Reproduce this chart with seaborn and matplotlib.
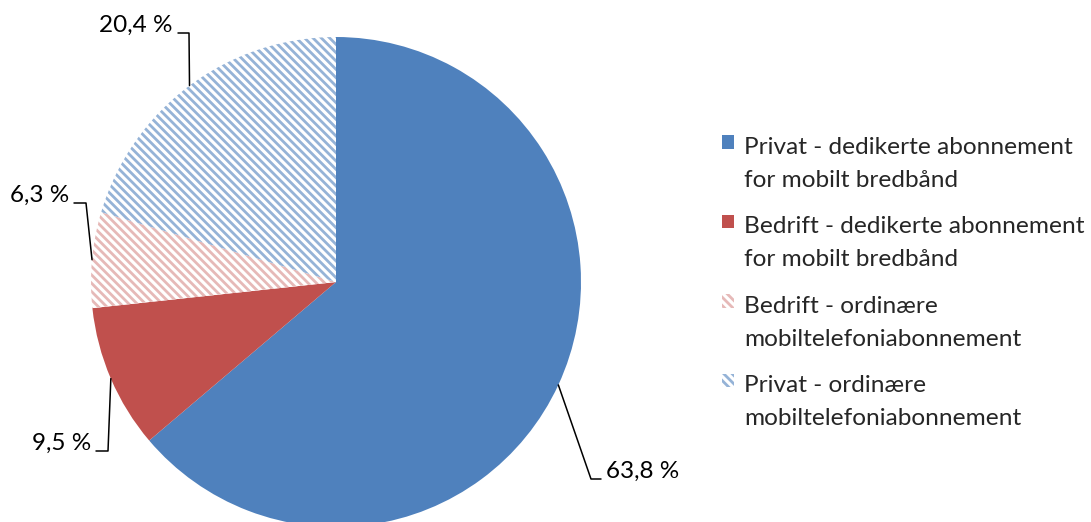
import matplotlib
matplotlib.use("Agg")
import matplotlib.pyplot as plt
import numpy as np
import seaborn as sns
from matplotlib.patches import Rectangle
from matplotlib.legend_handler import HandlerPatch

# data
categories = [
    "Privat - dedikerte abonnement\nfor mobilt bredbånd",
    "Bedrift - dedikerte abonnement\nfor mobilt bredbånd",
    "Bedrift - ordinære\nmobiltelefoniabonnement",
    "Privat - ordinære\nmobiltelefoniabonnement",
]
shares = [63.8, 9.5, 6.3, 20.4]
value_labels = ["63,8 %", "9,5 %", "6,3 %", "20,4 %"]

# styles
face_colors = ["#4F81BD", "#C0504D", "white", "white"]
hatch_colors = ["#4F81BD", "#C0504D", "#E6B9B8", "#95B3D7"]
hatches = [None, None, "\\\\\\\\", "\\\\\\\\"]

# label layout in pixels: elbow of leader, end of leader, text alignment
elbows_px = [(591, 479), (108, 451), (86, 203), (189, 33)]
ends_px = [(601, 479), (96, 451), (74, 203), (178, 33)]
text_ha = ["left", "right", "right", "right"]

W, H = 1091, 522
R = 245
cx, cy = 336, 282

sns.set_theme(style="white")
plt.rcParams["font.family"] = ["Lato", "DejaVu Sans"]
plt.rcParams["hatch.linewidth"] = 2.0


def px(p):
    return ((p[0] - cx) / R, (cy - p[1]) / R)


fig = plt.figure(figsize=(W / 100, H / 100), dpi=100)
ax = fig.add_axes([0, 0, 1, 1])
wedges, _ = ax.pie(shares, startangle=90, counterclock=False, radius=1,
                   colors=face_colors, wedgeprops=dict(linewidth=0))
for w, h, hc in zip(wedges, hatches, hatch_colors):
    if h:
        w.set_hatch(h)
        w.set_edgecolor(hc)

ax.set_xlim(-cx / R, (W - cx) / R)
ax.set_ylim(-(H - cy) / R, cy / R)
ax.set_aspect("auto")
ax.axis("off")

# leader lines and value labels
for w, lab, el, en, ha in zip(wedges, value_labels, elbows_px, ends_px, text_ha):
    th = np.deg2rad((w.theta1 + w.theta2) / 2)
    a = (np.cos(th), np.sin(th))
    e1, e2 = px(el), px(en)
    ax.plot([a[0], e1[0], e2[0]], [a[1], e1[1], e2[1]], color="black", lw=1.1,
            clip_on=False)
    dx = 5 / R if ha == "left" else -5 / R
    ax.text(e2[0] + dx, e2[1] + 8 / R, lab, ha=ha, va="center", fontsize=17.5,
            color="black")


def shifted_box(legend, orig_handle, xdescent, ydescent, width, height, fontsize):
    return Rectangle((-xdescent, -ydescent + 0.88 * fontsize), width, height)


leg = ax.legend(wedges, categories, loc="upper left",
                bbox_to_anchor=(722 / W, 1 - 137 / H), bbox_transform=fig.transFigure,
                frameon=False, fontsize=17.6, borderpad=0, borderaxespad=0,
                handlelength=0.49, handleheight=0.49, handletextpad=0.41,
                labelspacing=1.06,
                handler_map={matplotlib.patches.Wedge: HandlerPatch(patch_func=shifted_box)})
for t in leg.get_texts():
    t.set_linespacing(1.68)

fig.savefig("out.png", dpi=100)
